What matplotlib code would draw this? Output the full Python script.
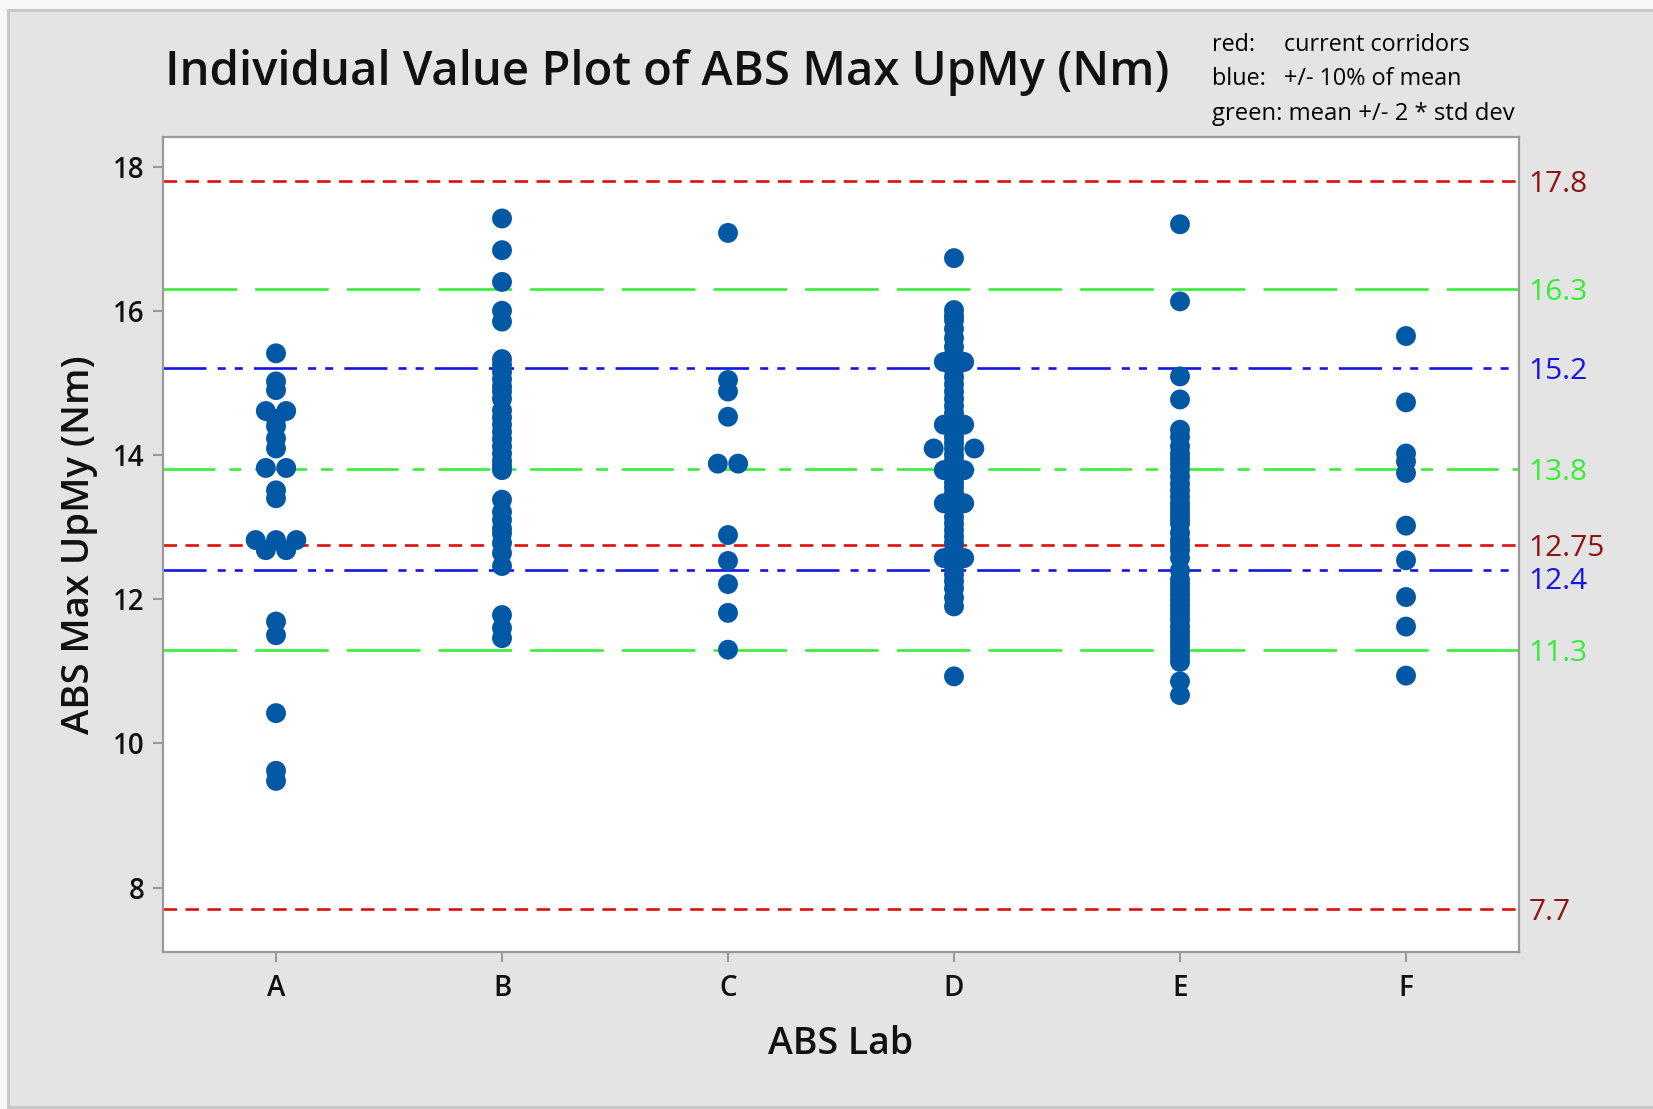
import numpy as np
import matplotlib
matplotlib.use("Agg")
import matplotlib.pyplot as plt
from matplotlib.patches import Rectangle

plt.rcParams['font.family'] = ['Open Sans', 'DejaVu Sans']
plt.rcParams['lines.scale_dashes'] = False

# data
labs = ['A', 'B', 'C', 'D', 'E', 'F']
lab_a = [15.41, 15.02, 14.90, 14.61, 14.61, 14.50, 14.40, 14.23, 14.09, 13.82, 13.82,
         13.51, 13.40, 12.82, 12.82, 12.82, 12.68, 12.68, 11.69, 11.50, 10.42, 9.62, 9.48]
lab_b = [17.28, 16.84, 16.40, 16.00, 15.85, 15.33, 15.25, 15.15, 15.05, 14.95, 14.88,
         14.78, 14.62, 14.52, 14.42, 14.32, 14.22, 14.12, 14.02, 13.92, 13.85, 13.79,
         13.38, 13.21, 13.10, 12.98, 12.91, 12.78, 12.64, 12.46, 11.78, 11.60, 11.46]
lab_c = [17.08, 15.04, 14.88, 14.53, 13.88, 13.88, 12.89, 12.53, 12.21, 11.81, 11.30]
lab_d = [16.73, 16.01, 15.93, 15.87, 15.75, 15.62, 15.50, 15.40, 15.29, 15.29, 15.18,
         15.08, 14.98, 14.88, 14.78, 14.68, 14.58, 14.50, 14.42, 14.42, 14.33, 14.25,
         14.17, 14.09, 14.09, 14.09, 14.00, 13.92, 13.86, 13.79, 13.79, 13.70, 13.62,
         13.55, 13.47, 13.40, 13.33, 13.33, 13.24, 13.14, 13.05, 12.96, 12.87, 12.78,
         12.68, 12.57, 12.57, 12.45, 12.34, 12.25, 12.15, 12.02, 11.90, 10.93]
lab_e = [17.20, 16.13, 15.09, 14.77, 14.35, 14.25, 14.12, 14.02, 13.95, 13.88, 13.80,
         13.70, 13.60, 13.51, 13.42, 13.33, 13.26, 13.19, 13.12, 13.05, 12.92, 12.82,
         12.75, 12.68, 12.57, 12.40, 12.27, 12.20, 12.13, 12.06, 11.99, 11.92, 11.85,
         11.78, 11.71, 11.62, 11.55, 11.48, 11.41, 11.34, 11.27, 11.20, 11.13, 10.86, 10.67]
lab_f = [15.65, 14.73, 14.02, 13.91, 13.75, 13.02, 12.54, 12.03, 11.62, 10.94]
groups = [lab_a, lab_b, lab_c, lab_d, lab_e, lab_f]

red_vals = [17.8, 12.75, 7.7]
green_vals = [16.3, 13.8, 11.3]
blue_vals = [15.2, 12.4]

W, H = 1653, 1109
fig = plt.figure(figsize=(W / 100, H / 100), dpi=100)
fig.patch.set_facecolor('#f7f7f7')
# grey panel with border like the minitab graph window
fig.patches.append(Rectangle((8 / W, 0.002), 1, 1 - 10 / H - 0.002, transform=fig.transFigure,
                             facecolor='#e4e4e4', edgecolor='#c9c9c9', lw=2.2, zorder=-10))

ax = fig.add_axes([163 / W, 1 - 952 / H, (1519 - 163) / W, (952 - 137) / H])
ax.set_zorder(5)
ax.set_facecolor('white')

dot_w = 0.09  # horizontal step for tied values
for i, vals in enumerate(groups):
    vals = np.array(vals)
    xs = np.full(len(vals), float(i))
    for v in np.unique(vals):
        idx = np.where(vals == v)[0]
        k = len(idx)
        xs[idx] = i + (np.arange(k) - (k - 1) / 2) * dot_w
    ax.scatter(xs, vals, s=205, color='#0358a6', edgecolors='none', zorder=3)

lw = 1.9
red_dash = (0, (9.7, 6.1))
green_long = (0, (53, 13))
green_dd = (0, (37.4, 10, 8.6, 10))
blue_dd = (0, (31, 8, 5.8, 6.5, 5.8, 8))
for v in red_vals:
    ax.axhline(v, color='#e00d0d', lw=lw, ls=red_dash, zorder=2)
for v in green_vals:
    ax.axhline(v, color='#39ee39', lw=lw, ls=green_dd if v == 13.8 else green_long, zorder=2)
for v in blue_vals:
    ax.axhline(v, color='#1414e6', lw=lw, ls=blue_dd, zorder=2)

ax.set_xlim(-0.5, 5.5)
ax.set_ylim(7.107, 18.41)
ax.set_xticks(range(len(labs)))
ax.set_xticklabels(labs)
ax.set_yticks([8, 10, 12, 14, 16, 18])
ax.tick_params(length=7, width=1.5, color='#9a9a9a', labelsize=20, pad=6, labelcolor='#111111')
ax.tick_params(axis='x', pad=9)
for lab in ax.get_xticklabels() + ax.get_yticklabels():
    lab.set_fontweight('semibold')
for s in ax.spines.values():
    s.set_color('#9a9a9a')
    s.set_linewidth(1.6)

# value labels on the right, nudged apart when two are too close
lab_list = sorted([(v, '#8e1414') for v in red_vals] + [(v, '#33ee33') for v in green_vals]
                  + [(v, '#1414e6') for v in blue_vals], reverse=True)
tr = ax.get_yaxis_transform()
prev = None
for v, c in lab_list:
    y = v
    if prev is not None and prev - y < 0.46:
        y = prev - 0.46
    ax.text(1.007, y, f'{v:g}', transform=tr, color=c, fontsize=21.5, va='center_baseline')
    prev = y

ax.set_xlabel('ABS Lab', fontsize=27, fontweight='semibold', labelpad=16, color='#111111')
ax.set_ylabel('ABS Max UpMy (Nm)', fontsize=27.5, fontweight='semibold', labelpad=11,
              color='#111111')

fig.text(165 / W, 1 - 73 / H, 'Individual Value Plot of ABS Max UpMy (Nm)',
         fontsize=34, fontweight='semibold', va='center', ha='left', color='#111111')

leg_y = [45, 79, 114]
fig.text(1212 / W, 1 - leg_y[0] / H, 'red:', fontsize=16.8, va='center')
fig.text(1284 / W, 1 - leg_y[0] / H, 'current corridors', fontsize=16.8, va='center')
fig.text(1212 / W, 1 - leg_y[1] / H, 'blue:', fontsize=16.8, va='center')
fig.text(1284 / W, 1 - leg_y[1] / H, '+/- 10% of mean', fontsize=16.8, va='center')
fig.text(1212 / W, 1 - leg_y[2] / H, 'green: mean +/- 2 * std dev', fontsize=17.2, va='center')

fig.savefig('out.png', dpi=100, facecolor=fig.get_facecolor())
